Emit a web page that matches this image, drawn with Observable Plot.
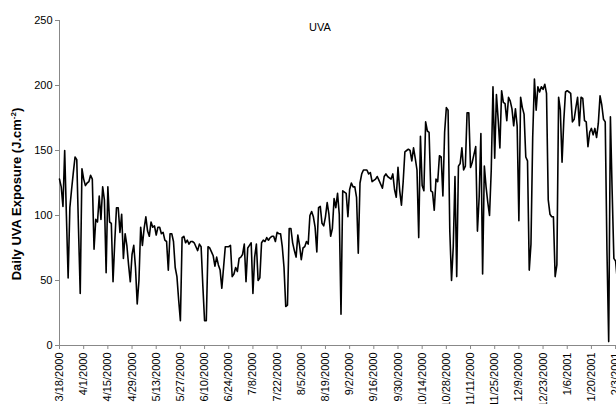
<!DOCTYPE html>
<html><head><meta charset="utf-8">
<script src="https://cdn.jsdelivr.net/npm/d3@7"></script>
<script src="https://cdn.jsdelivr.net/npm/@observablehq/plot@0.6"></script>
<style>
html,body{margin:0;padding:0;background:#fff;overflow:hidden;}
#chart{position:relative;width:616px;height:404px;overflow:hidden;}
</style></head><body><div id="chart"></div>
<script>
// ---- data ----
const startDate = "3/18/2000";           // first daily value
const uva = [
  128,122,107,150,100,52,106,120,133,145,143,90,40,136,128,123,125,126,131,128,
  74,97,95,115,97,122,112,56,122,95,94,49,80,106,106,87,101,67,86,77,
  62,49,70,77,60,32,50,91,77,90,99,88,84,95,91,92,85,91,91,86,
  87,81,80,58,
  86,86,80,60,53,35,19,83,84,79,81,78,80,80,79,76,73,78,76,46,
  19,19,76,75,72,69,61,68,62,58,44,60,76,76,76,77,53,55,60,57,
  67,68,70,78,49,75,77,79,40,68,78,50,52,79,81,80,83,81,83,84,
  84,80,87,
  86,86,76,60,30,31,90,90,79,73,68,85,77,66,75,76,80,78,100,103,
  99,91,72,106,107,94,92,99,110,101,84,90,113,106,117,101,24,119,118,117,
  99,120,125,122,122,114,71,125,132,135,135,135,132,133,126,127,128,130,127,124,
  121,130,132,
  130,129,128,132,120,114,137,119,108,126,149,150,151,150,142,152,144,135,83,161,
  123,119,172,165,164,119,118,104,128,126,146,145,115,164,183,181,88,50,76,130,
  53,138,140,152,135,138,179,179,137,141,147,153,88,114,163,55,138,122,110,100,
  135,199,144,193,174,152,
  196,187,186,173,191,188,182,169,182,169,96,191,183,178,145,142,58,78,160,205,
  181,199,195,199,197,201,194,112,101,99,99,53,62,191,181,141,173,195,196,195,
  194,172,174,183,191,169,191,190,173,172,153,164,167,162,167,160,171,192,185,174,
  172,73,3,176,119,67,65,50
];
const tickLabels = [
  "3/18/2000","4/1/2000","4/15/2000","4/29/2000","5/13/2000","5/27/2000",
  "6/10/2000","6/24/2000","7/8/2000","7/22/2000","8/5/2000","8/19/2000",
  "9/2/2000","9/16/2000","9/30/2000","10/14/2000","10/28/2000","11/11/2000",
  "11/25/2000","12/9/2000","12/23/2000","1/6/2001","1/20/2001","2/3/2001"
];
const yTicks = [0, 50, 100, 150, 200, 250];
const title = "UVA";
const yLabelParts = ["Daily UVA Exposure (J.cm", "-2", ")"];

// ---- build ----
const parse = s => { const [m, d, y] = s.split("/").map(Number); return new Date(Date.UTC(y, m - 1, d)); };
const DAY = 864e5;
const t0 = parse(startDate);
const data = uva.map((v, i) => ({date: new Date(t0.getTime() + i * DAY), uva: v}));
const tickDates = tickLabels.map(parse);
const fmt = d => `${d.getUTCMonth() + 1}/${d.getUTCDate()}/${d.getUTCFullYear()}`;
const pxPerDay = 1.727, nDays = 335, left = 59;

const plot = Plot.plot({
  width: 616, height: 404,
  marginLeft: left, marginRight: 0, marginTop: 20, marginBottom: 59,
  style: {fontFamily: "'Liberation Sans', Arial, sans-serif", fontSize: "11px", overflow: "hidden", background: "white", color: "black"},
  x: {type: "utc", domain: [t0, new Date(t0.getTime() + nDays * DAY)], range: [left, left + nDays * pxPerDay]},
  y: {domain: [0, 250]},
  marks: [
    Plot.ruleY([0], {stroke: "#888", strokeWidth: 1}),
    Plot.ruleX([t0], {stroke: "#888", strokeWidth: 1}),
    Plot.axisY({ticks: yTicks, tickSize: 4, tickPadding: 3, stroke: "#888", fill: "black", label: null, fontSize: 11}),
    Plot.axisX({ticks: tickDates, tickFormat: fmt, tickRotate: -90, tickSize: 4, tickPadding: 3, stroke: "#888", fill: "black", label: null, fontSize: 11}),
    Plot.lineY(data, {x: "date", y: "uva", stroke: "black", strokeWidth: 1.6})
  ]
});

const svg = d3.select(plot);
const yl = svg.append("text")
  .attr("transform", "translate(20.5,194) rotate(-90)")
  .attr("text-anchor", "middle")
  .attr("font-weight", "bold")
  .attr("font-size", 13)
  .attr("fill", "black");
yl.append("tspan").text(yLabelParts[0]);
yl.append("tspan").attr("dy", -5).attr("font-size", 8).text(yLabelParts[1]);
yl.append("tspan").attr("dy", 5).text(yLabelParts[2]);

svg.append("text")
  .attr("x", 320).attr("y", 31)
  .attr("text-anchor", "middle")
  .attr("font-size", 11)
  .attr("fill", "black")
  .text(title);

document.getElementById("chart").appendChild(plot);
</script></body></html>
